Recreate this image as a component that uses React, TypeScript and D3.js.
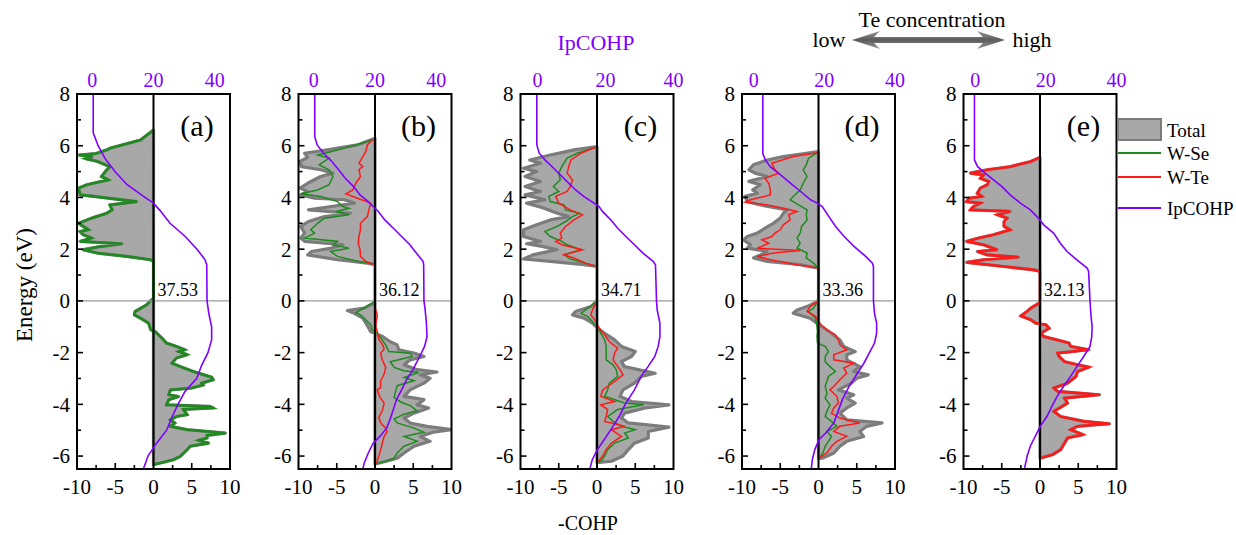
import React from "react";
import * as d3 from "d3";

type Pt = [number, number];

// -COHP, as [energy (eV), -COHP] pairs, top to bottom
const wseA: Pt[] = [
  [6.61, 0], [6.22, -1.7], [5.9, -5.7], [5.84, -6.1], [5.7, -7.5], [5.64, -9.8], [5.58, -8.0], [5.5, -8.9],
  [5.4, -7.4], [5.19, -5.7], [5.07, -6.1], [4.81, -6.8], [4.68, -5.9], [4.49, -8.7], [4.36, -9.8], [4.1, -9.6],
  [4.04, -7.8], [3.84, -2.2], [3.71, -5.7], [3.52, -5.4], [3.39, -6.1], [3.2, -8.1], [3.0, -9.8], [2.88, -9.2],
  [2.75, -8.5], [2.68, -9.6], [2.56, -9.2], [2.43, -8.1], [2.3, -9.6], [2.21, -4.1], [2.1, -7.0], [1.98, -9.2],
  [1.85, -7.4], [1.72, -3.5], [1.59, -0.4], [1.53, 0], [0.1, 0],
  [0, -0.4], [-0.15, -0.9], [-0.41, -2.4], [-0.54, -2.5], [-0.67, -1.7], [-0.86, -0.65], [-1.12, -0.35],
  [-1.18, 0.2], [-1.44, 1.1], [-1.63, 1.7], [-1.76, 3.0], [-1.89, 4.1], [-1.96, 3.3], [-2.08, 4.4], [-2.21, 3.0],
  [-2.41, 2.4], [-2.54, 3.5], [-2.73, 5.2], [-2.95, 7.6], [-3.05, 7.8], [-3.18, 6.3], [-3.25, 6.5], [-3.37, 5.0],
  [-3.44, 2.2], [-3.63, 2.0], [-3.7, 3.3], [-3.82, 2.0], [-4.02, 1.7], [-4.08, 7.4], [-4.14, 7.8], [-4.2, 3.9],
  [-4.4, 4.4], [-4.47, 3.0], [-4.6, 2.2], [-4.72, 2.8], [-4.85, 2.2], [-4.98, 4.4], [-5.11, 9.4], [-5.2, 7.0],
  [-5.3, 7.0], [-5.39, 5.9], [-5.5, 7.2], [-5.62, 4.8], [-5.75, 4.4], [-6.01, 3.5], [-6.14, 2.6], [-6.27, 0.9],
  [-6.33, 0],
];

const totalB: Pt[] = [
  [6.29, 0], [6.03, -2.3], [5.84, -6.2], [5.71, -9.2], [5.55, -8.8], [5.39, -9.8], [5.19, -9.6], [5.07, -7.1],
  [4.94, -5.5], [4.81, -7.1], [4.55, -8.8], [4.36, -9.8], [4.23, -8.8], [4.1, -9.7], [3.97, -7.9], [3.91, -4.0],
  [3.78, -2.7], [3.65, -5.7], [3.52, -8.7], [3.39, -3.2], [3.26, -6.6], [3.07, -8.7], [2.88, -9.7], [2.62, -9.2],
  [2.43, -9.7], [2.3, -9.2], [2.17, -4.2], [2.04, -5.7], [1.91, -8.3], [1.78, -8.8], [1.59, -4.9], [1.46, -1.0],
  [1.4, 0], [0.05, 0],
  [-0.09, -0.2], [-0.28, -1.4], [-0.37, -3.6], [-0.48, -2.7], [-0.67, -1.6], [-0.86, -1.2], [-1.06, -0.8],
  [-1.18, -0.6], [-1.38, 1.0], [-1.58, 2.0], [-1.7, 2.9], [-1.89, 3.1], [-2.02, 5.1], [-2.15, 6.4], [-2.28, 4.6],
  [-2.47, 3.8], [-2.66, 5.5], [-2.75, 8.1], [-2.86, 5.9], [-2.99, 7.2], [-3.18, 6.4], [-3.44, 4.6], [-3.69, 3.8],
  [-3.82, 6.4], [-4.02, 5.5], [-4.14, 7.0], [-4.34, 5.1], [-4.53, 3.8], [-4.72, 4.6], [-4.85, 6.8], [-4.98, 10],
  [-5.08, 7.6], [-5.24, 5.9], [-5.43, 7.2], [-5.62, 5.1], [-5.88, 3.8], [-6.08, 2.9], [-6.21, 1.4], [-6.3, 0],
];

const wseB: Pt[] = [
  [6.24, 0], [6.22, -0.35], [5.97, -3.2], [5.77, -5.8], [5.64, -7.5], [5.52, -6.0], [5.26, -7.3], [5.07, -6.0],
  [4.81, -5.5], [4.49, -6.0], [4.29, -7.5], [4.14, -9.7], [4.04, -7.1], [3.84, -4.9], [3.65, -4.2], [3.58, -3.4],
  [3.46, -5.1], [3.33, -3.4], [3.2, -6.6], [3.0, -7.5], [2.75, -8.4], [2.62, -7.9], [2.43, -9.2], [2.3, -4.9],
  [2.17, -5.5], [2.04, -3.4], [1.91, -5.8], [1.72, -4.9], [1.53, -2.3], [1.44, -0.35], [1.4, 0], [0.05, 0],
  [-0.09, -0.35], [-0.45, -2.5], [-0.54, -1.9], [-0.73, -1.2], [-0.92, -0.56], [-1.12, -0.35], [-1.25, 0.3],
  [-1.51, 0.95], [-1.7, 1.4], [-1.96, 1.8], [-2.02, 4.6], [-2.15, 4.85], [-2.35, 2.0], [-2.57, 2.5], [-2.7, 3.8],
  [-2.77, 5.7], [-2.96, 3.8], [-3.09, 5.1], [-3.28, 2.9], [-3.47, 2.7], [-3.73, 2.5], [-3.93, 3.5], [-4.05, 4.6],
  [-4.25, 5.5], [-4.38, 3.8], [-4.57, 2.5], [-4.72, 2.9], [-4.92, 5.1], [-5.08, 6.4], [-5.24, 3.8], [-5.43, 5.5],
  [-5.62, 3.8], [-5.88, 2.9], [-6.08, 2.5], [-6.21, 1.2], [-6.3, 0.2], [-6.32, 0],
];

const wteB: Pt[] = [
  [6.24, 0], [6.22, -0.35], [6.03, -1.0], [5.77, -1.2], [5.58, -1.6], [5.32, -2.1], [5.2, -1.6], [5.07, -2.1],
  [4.81, -1.9], [4.55, -2.5], [4.29, -2.9], [4.14, -3.8], [3.97, -2.3], [3.78, -0.56], [3.52, -0.8], [3.26, -1.0],
  [3.0, -1.9], [2.75, -1.9], [2.49, -2.1], [2.23, -2.2], [1.98, -1.95], [1.72, -1.9], [1.53, -1.2], [1.4, -0.1],
  [1.38, 0], [0.05, 0],
  [-0.09, -0.1], [-0.35, 0.1], [-0.54, 0.3], [-0.73, 0.2], [-0.99, 0.1], [-1.18, 0.3], [-1.48, 0.5],
  [-1.67, 0.95], [-1.86, 1.2], [-2.02, 0.74], [-2.28, 0.95], [-2.57, 1.4], [-2.83, 1.2], [-3.09, 0.74],
  [-3.35, 0.74], [-3.44, 0.3], [-3.73, 0.65], [-3.95, 1.2], [-4.25, 0.95], [-4.5, 0.5], [-4.72, 0.74],
  [-4.92, 1.4], [-5.06, 1.6], [-5.24, 1.2], [-5.5, 0.95], [-5.76, 0.74], [-6.0, 0.5], [-6.27, 0.2], [-6.3, 0],
];

const totalC: Pt[] = [
  [5.97, 0], [5.84, -3.0], [5.64, -6.1], [5.45, -8.8], [5.32, -7.4], [5.13, -9.6], [5.0, -7.9], [4.81, -9.4],
  [4.62, -7.4], [4.42, -9.4], [4.23, -7.4], [4.1, -9.4], [3.91, -6.8], [3.78, -9.2], [3.59, -7.0], [3.39, -5.2],
  [3.26, -3.7], [3.13, -6.1], [2.94, -7.9], [2.75, -9.6], [2.49, -9.6], [2.3, -7.4], [2.21, -9.2], [2.11, -7.2],
  [1.98, -5.2], [1.78, -8.4], [1.62, -9.6], [1.53, -6.1], [1.4, -1.7], [1.33, 0], [0.05, 0],
  [-0.03, -0.13], [-0.22, -0.8], [-0.41, -2.8], [-0.54, -3.2], [-0.67, -1.7], [-0.86, -0.6], [-1.06, 0.1],
  [-1.25, 1.0], [-1.51, 2.3], [-1.76, 3.2], [-1.96, 5.0], [-2.15, 4.5], [-2.35, 3.2], [-2.54, 3.6], [-2.8, 7.6],
  [-2.92, 5.8], [-3.18, 4.9], [-3.44, 3.4], [-3.69, 3.0], [-3.89, 4.5], [-4.02, 9.4], [-4.14, 6.3], [-4.34, 3.6],
  [-4.53, 3.2], [-4.72, 4.1], [-4.88, 9.4], [-5.05, 6.7], [-5.3, 6.7], [-5.5, 4.9], [-5.75, 4.1], [-6.0, 3.4],
  [-6.2, 1.9], [-6.25, 0],
];

const wseC: Pt[] = [
  [5.95, 0], [5.71, -2.6], [5.52, -3.9], [5.19, -4.6], [4.94, -5.0], [4.68, -4.8], [4.42, -5.7], [4.23, -5.0],
  [4.04, -6.3], [3.84, -6.1], [3.71, -4.3], [3.52, -4.1], [3.39, -2.3], [3.26, -3.2], [3.07, -4.1], [2.88, -5.2],
  [2.68, -6.8], [2.49, -6.1], [2.3, -4.6], [2.17, -3.9], [1.98, -2.1], [1.78, -4.3], [1.62, -3.5], [1.46, -1.5],
  [1.33, 0], [0.05, 0],
  [-0.09, -0.35], [-0.28, -1.2], [-0.48, -2.1], [-0.61, -1.2], [-0.8, -0.6], [-0.99, 0], [-1.25, 0.5],
  [-1.51, 1.0], [-1.76, 1.2], [-2.02, 1.2], [-2.28, 1.2], [-2.47, 2.1], [-2.66, 2.5], [-2.92, 2.7], [-3.18, 1.6],
  [-3.44, 1.4], [-3.69, 1.0], [-3.95, 3.6], [-4.02, 6.1], [-4.2, 2.7], [-4.47, 1.4], [-4.66, 2.1], [-4.85, 3.2],
  [-4.98, 5.0], [-5.11, 3.6], [-5.3, 4.1], [-5.5, 2.3], [-5.75, 1.4], [-6.0, 1.0], [-6.2, 0.5], [-6.25, 0],
];

const wteC: Pt[] = [
  [5.97, 0], [5.71, -2.1], [5.45, -3.4], [5.19, -3.7], [4.94, -3.9], [4.68, -3.2], [4.42, -3.5], [4.23, -3.9],
  [4.04, -5.4], [3.78, -5.0], [3.52, -3.5], [3.33, -1.9], [3.13, -3.0], [2.88, -4.1], [2.62, -4.8], [2.43, -4.6],
  [2.3, -5.4], [2.17, -4.6], [1.98, -1.9], [1.78, -4.3], [1.66, -3.0], [1.46, -1.5], [1.33, 0], [0.05, 0],
  [-0.09, -0.13], [-0.35, -0.6], [-0.54, -0.8], [-0.8, -0.13], [-1.06, 0.3], [-1.31, 1.0], [-1.57, 1.6],
  [-1.83, 2.7], [-2.02, 2.3], [-2.28, 2.1], [-2.66, 3.0], [-2.86, 3.4], [-3.11, 2.3], [-3.44, 0.75], [-3.69, 0.5],
  [-3.89, 2.3], [-4.02, 0.5], [-4.2, 1.4], [-4.47, 1.2], [-4.66, 1.0], [-4.85, 3.6], [-4.98, 1.9], [-5.24, 3.2],
  [-5.5, 1.9], [-5.75, 1.2], [-6.0, 0.75], [-6.2, 0.2], [-6.22, 0],
];

const totalD: Pt[] = [
  [5.77, 0], [5.58, -4.6], [5.45, -6.7], [5.26, -8.5], [5.07, -9.1], [4.94, -8.3], [4.81, -6.7], [4.62, -9.1],
  [4.49, -7.6], [4.29, -8.6], [4.16, -8.0], [4.04, -9.6], [3.84, -9.3], [3.71, -7.6], [3.52, -4.1], [3.39, -4.6],
  [3.2, -5.0], [3.0, -5.9], [2.81, -7.0], [2.62, -8.0], [2.49, -9.3], [2.36, -9.8], [2.17, -8.9], [2.04, -9.3],
  [1.91, -6.7], [1.78, -7.6], [1.66, -8.5], [1.53, -6.7], [1.4, -2.4], [1.27, 0], [0.05, 0],
  [-0.03, -0.2], [-0.22, -1.5], [-0.35, -2.8], [-0.48, -3.3], [-0.67, -1.1], [-0.86, -0.2], [-0.99, 0.4],
  [-1.25, 1.7], [-1.51, 2.8], [-1.76, 3.3], [-1.96, 4.8], [-2.08, 3.7], [-2.28, 3.7], [-2.54, 5.4], [-2.73, 4.6],
  [-2.86, 6.5], [-2.99, 5.0], [-3.18, 4.3], [-3.44, 2.6], [-3.63, 4.6], [-3.76, 3.7], [-3.95, 4.8], [-4.14, 3.7],
  [-4.34, 2.8], [-4.6, 3.7], [-4.72, 8.3], [-4.85, 6.3], [-5.05, 5.4], [-5.24, 5.9], [-5.43, 3.7], [-5.62, 2.8],
  [-5.88, 2.0], [-6.07, 0.65], [-6.1, 0],
];

const wseD: Pt[] = [
  [5.75, 0], [5.73, -0.13], [5.52, -1.3], [5.26, -1.6], [5.07, -2.0], [4.81, -1.5], [4.55, -2.0], [4.29, -2.4],
  [4.04, -3.3], [3.91, -3.7], [3.71, -2.6], [3.52, -1.5], [3.33, -1.6], [3.13, -1.5], [2.88, -2.2], [2.62, -2.4],
  [2.43, -2.8], [2.23, -2.4], [2.04, -2.8], [1.85, -1.5], [1.66, -1.6], [1.46, -0.65], [1.27, 0], [0.05, 0],
  [-0.03, -0.13], [-0.28, -0.65], [-0.41, -1.3], [-0.67, -0.4], [-0.99, -0.2], [-1.18, -0.13], [-1.37, -0.2],
  [-1.63, -0.13], [-1.76, 0.87], [-1.96, 1.3], [-2.15, 0.87], [-2.35, 0.87], [-2.54, 1.5], [-2.73, 2.2],
  [-2.92, 1.3], [-3.11, 1.1], [-3.31, 0.87], [-3.56, 1.1], [-3.76, 0.87], [-4.02, 1.5], [-4.27, 1.1],
  [-4.47, 0.87], [-4.66, 1.7], [-4.85, 2.4], [-5.05, 1.1], [-5.24, 1.7], [-5.43, 1.3], [-5.62, 0.87],
  [-5.88, 0.57], [-6.05, 0.2], [-6.08, 0],
];

const wteD: Pt[] = [
  [5.75, 0], [5.73, -0.2], [5.58, -3.3], [5.32, -6.1], [5.07, -5.7], [4.94, -5.2], [4.74, -7.0], [4.55, -6.5],
  [4.29, -6.3], [4.1, -6.3], [3.91, -8.9], [3.82, -9.6], [3.71, -6.7], [3.59, -4.8], [3.46, -2.8], [3.33, -3.9],
  [3.13, -3.7], [2.94, -4.6], [2.75, -5.0], [2.62, -5.7], [2.49, -6.1], [2.36, -7.4], [2.23, -6.5], [2.04, -8.0],
  [1.95, -2.4], [1.85, -5.9], [1.72, -8.0], [1.59, -6.3], [1.4, -2.8], [1.27, 0], [0.05, 0],
  [-0.03, -0.2], [-0.22, -1.1], [-0.41, -1.5], [-0.6, -0.4], [-0.8, 0], [-0.93, 0.4], [-1.12, 1.1], [-1.31, 2.2],
  [-1.51, 2.6], [-1.7, 2.8], [-1.89, 3.7], [-2.08, 2.0], [-2.28, 2.0], [-2.41, 4.6], [-2.6, 3.3], [-2.79, 3.7],
  [-3.05, 2.8], [-3.31, 2.0], [-3.44, 1.5], [-3.69, 2.4], [-3.95, 2.6], [-4.14, 2.0], [-4.34, 1.7], [-4.53, 2.8],
  [-4.72, 5.4], [-4.85, 2.8], [-5.05, 2.0], [-5.24, 3.7], [-5.43, 2.4], [-5.62, 1.7], [-5.88, 1.1], [-6.05, 0.2],
  [-6.08, 0],
];

const wteE: Pt[] = [
  [5.55, 0], [5.39, -1.2], [5.19, -3.9], [5.07, -6.9], [4.94, -9.1], [4.87, -7.4], [4.74, -7.8], [4.62, -6.7],
  [4.49, -6.9], [4.36, -7.8], [4.16, -8.2], [4.04, -7.6], [3.97, -9.3], [3.84, -9.6], [3.78, -7.8], [3.65, -8.7],
  [3.52, -9.1], [3.46, -3.9], [3.33, -5.6], [3.2, -4.3], [3.07, -4.7], [2.88, -4.7], [2.75, -3.9], [2.56, -6.1],
  [2.43, -8.0], [2.3, -9.6], [2.17, -7.4], [1.98, -5.6], [1.91, -8.2], [1.78, -6.9], [1.69, -2.8], [1.59, -7.4],
  [1.49, -9.6], [1.33, -4.7], [1.2, -0.8], [1.14, 0], [0.05, 0],
  [-0.09, -0.13], [-0.28, -1.2], [-0.41, -1.7], [-0.58, -2.5], [-0.73, -1.2], [-0.86, -0.57], [-0.92, 0.75],
  [-1.06, 1.2], [-1.25, 0.1], [-1.38, 0.5], [-1.51, 2.3], [-1.63, 3.8], [-1.76, 4.0], [-1.89, 6.4], [-2.02, 2.3],
  [-2.15, 2.5], [-2.35, 3.2], [-2.47, 4.9], [-2.56, 6.4], [-2.73, 4.9], [-2.92, 4.7], [-3.18, 3.6], [-3.37, 1.8],
  [-3.5, 2.3], [-3.63, 7.8], [-3.76, 3.2], [-3.95, 3.6], [-4.08, 2.9], [-4.27, 1.8], [-4.47, 2.7], [-4.66, 5.8],
  [-4.75, 9.1], [-4.85, 4.9], [-4.98, 4.0], [-5.17, 5.6], [-5.3, 3.6], [-5.5, 3.2], [-5.75, 2.7], [-5.95, 1.6],
  [-6.07, 0.1], [-6.08, 0],
];

// IpCOHP (top axis), [energy, value]
const ipA: Pt[] = [
  [8, 0.3], [6.5, 0.3], [6.0, 1.9], [5.5, 4.2], [5.0, 7.4], [4.5, 11.3], [4.0, 17.2], [3.8, 19.8], [3.5, 22.1],
  [3.0, 25.4], [2.5, 30.3], [2.0, 34.2], [1.6, 36.8], [1.4, 37.4], [0, 37.5], [-0.5, 38.1], [-1.0, 39],
  [-1.5, 39], [-2.0, 37.8], [-2.5, 35.7], [-3.0, 34.1], [-3.5, 30.3], [-4.0, 28], [-4.5, 26], [-5.0, 24.3],
  [-5.5, 21], [-6.0, 18.2], [-6.5, 16.7],
];
const ipB: Pt[] = [
  [8, 0.3], [6.35, 0.3], [6.03, 1.1], [5.71, 3.2], [5.39, 5.9], [5.07, 8.1], [4.74, 10.3], [4.42, 13],
  [4.1, 15.1], [3.84, 17.8], [3.65, 19.4], [3.46, 21.1], [3.13, 23.2], [2.81, 26], [2.49, 28.7], [2.17, 31.4],
  [1.85, 33.5], [1.53, 35.7], [1.4, 35.9], [0, 36.0], [-0.35, 36.4], [-0.86, 36.8], [-1.38, 37], [-1.76, 36.2],
  [-2.15, 34.6], [-2.66, 32.4], [-3.05, 30.3], [-3.44, 28.7], [-3.82, 27], [-4.2, 26], [-4.59, 24.9],
  [-4.92, 23.8], [-5.24, 21.6], [-5.5, 19.4], [-5.88, 17.8], [-6.27, 16.5], [-6.5, 16],
];
const ipC: Pt[] = [
  [8, -0.2], [6.03, -0.2], [5.71, 0.5], [5.45, 2.2], [5.07, 5.2], [4.68, 8.2], [4.29, 11.2], [4.04, 13.6],
  [3.78, 16.6], [3.65, 18.1], [3.46, 19.1], [3.13, 21.6], [2.81, 23.6], [2.49, 26], [2.17, 28.5], [1.85, 31],
  [1.53, 34], [1.4, 34.7], [0, 35], [-0.35, 35.2], [-0.86, 36], [-1.38, 36], [-1.76, 35.5], [-2.15, 34.5],
  [-2.54, 32.5], [-2.92, 30.5], [-3.44, 28.5], [-3.95, 26], [-4.47, 24], [-4.98, 21.6], [-5.37, 19.6],
  [-5.75, 17.6], [-6.14, 16.1], [-6.5, 15.4],
];
const ipD: Pt[] = [
  [8, 2.6], [5.7, 2.6], [5.45, 3.3], [5.19, 4.7], [4.87, 7.6], [4.55, 10.4], [4.23, 13.3], [3.91, 16.1],
  [3.78, 18], [3.65, 19.4], [3.26, 21.3], [2.88, 23.2], [2.49, 25.6], [2.11, 28.4], [1.72, 31.7], [1.46, 33.6],
  [1.33, 33.9], [0, 33.9], [-0.48, 34.2], [-0.86, 34.8], [-1.25, 34.8], [-1.63, 34.2], [-2.02, 32.7],
  [-2.41, 31.2], [-2.79, 29.4], [-3.31, 27], [-3.82, 25.1], [-4.34, 23.7], [-4.72, 22.7], [-5.11, 20.4],
  [-5.37, 18.5], [-5.75, 17.3], [-6.14, 16.6], [-6.5, 16.3],
];
const ipE: Pt[] = [
  [8, -0.2], [5.45, -0.2], [5.19, 0.7], [4.94, 2.8], [4.68, 5.2], [4.42, 7.6], [4.1, 9.9], [3.78, 12.8],
  [3.52, 15.6], [3.26, 17.5], [2.94, 19.4], [2.62, 22.2], [2.23, 24.1], [1.91, 26], [1.53, 29.3], [1.27, 31.7],
  [1.14, 32.1], [0, 32.5], [-0.6, 32.8], [-0.99, 33.1], [-1.38, 33], [-1.76, 32.5], [-2.15, 30.7],
  [-2.54, 28.8], [-2.92, 27], [-3.31, 25], [-3.69, 23.2], [-4.08, 21.7], [-4.47, 20.3], [-4.85, 18.4],
  [-5.24, 17], [-5.62, 15.6], [-6.01, 14.7], [-6.46, 14],
];

const panelTags = ["(a)", "(b)", "(c)", "(d)", "(e)"];
const fermiValues = ["37.53", "36.12", "34.71", "33.36", "32.13"];
const yTicks = [-6, -4, -2, 0, 2, 4, 6, 8];
const xTickLabels = [-10, -5, 0, 5, 10];
const topTickLabels = [0, 20, 40];
const legendItems = ["Total", "W-Se", "W-Te", "IpCOHP"];

const panels = [
  { total: wseA, wse: wseA, wte: null, ip: ipA, ipDomain: [-5, 45], bold: "wse" },
  { total: totalB, wse: wseB, wte: wteB, ip: ipB, ipDomain: [-5, 45], bold: "" },
  { total: totalC, wse: wseC, wte: wteC, ip: ipC, ipDomain: [-5, 40], bold: "" },
  { total: totalD, wse: wseD, wte: wteD, ip: ipD, ipDomain: [-3.3, 40], bold: "" },
  { total: wteE, wse: null, wte: wteE, ip: ipE, ipDomain: [-3.3, 40], bold: "wte" },
];

const W = 1236;
const H = 535;
const lefts = [77, 298.5, 520.5, 742, 963.5];
const pw = 153;
const top = 94;
const bottom = 469;

const FONT = "'Liberation Serif', 'Times New Roman', serif";
const GREEN = "#1f8a1f";
const RED = "#ff1a1a";
const PURPLE = "#7f00ff";
const FILL = "#a8a8a8";
const EDGE = "#7c7c7c";

const y = d3.scaleLinear().domain([-6.5, 8]).range([bottom, top]);

function Panel({ i }: { i: number }) {
  const p = panels[i];
  const left = lefts[i];
  const x = d3.scaleLinear().domain([-10, 10]).range([left, left + pw]);
  const xt = d3.scaleLinear().domain(p.ipDomain).range([left, left + pw]);
  const area = d3.area<Pt>().y((d) => y(d[0])).x0(x(0)).x1((d) => x(d[1]));
  const line = d3.line<Pt>().x((d) => x(d[1])).y((d) => y(d[0]));
  const ipLine = d3.line<Pt>().x((d) => xt(d[1])).y((d) => y(d[0]));
  const clip = `clip-${i}`;
  const minorY = d3.range(-6, 9, 1);
  const minorX = d3.range(-7.5, 10, 2.5).filter((v) => v !== 0);

  return (
    <g>
      <defs>
        <clipPath id={clip}>
          <rect x={left} y={top} width={pw} height={bottom - top} />
        </clipPath>
      </defs>
      <g clipPath={`url(#${clip})`}>
        <path d={area(p.total) || ""} fill={FILL} stroke={EDGE} strokeWidth={3.2} strokeLinejoin="round" />
        {p.wse && (
          <path d={line(p.wse) || ""} fill="none" stroke={GREEN} strokeWidth={p.bold === "wse" ? 2.6 : 1.5} />
        )}
        {p.wte && (
          <path d={line(p.wte) || ""} fill="none" stroke={RED} strokeWidth={p.bold === "wte" ? 2.6 : 1.5} />
        )}
        <line x1={left} x2={left + pw} y1={y(0)} y2={y(0)} stroke="#9a9a9a" strokeWidth={1.3} />
        <line x1={x(0)} x2={x(0)} y1={top} y2={bottom} stroke="#000" strokeWidth={2} />
        <path d={ipLine(p.ip) || ""} fill="none" stroke={PURPLE} strokeWidth={1.6} />
      </g>
      <rect x={left} y={top} width={pw} height={bottom - top} fill="none" stroke="#000" strokeWidth={2} />
      {minorY.map((v) => (
        <line key={"yt" + v} x1={left} x2={left + (v % 2 === 0 ? 6 : 4)} y1={y(v)} y2={y(v)} stroke="#000" strokeWidth={1.6} />
      ))}
      {minorX.map((v) => (
        <line key={"xt" + v} x1={x(v)} x2={x(v)} y1={bottom} y2={bottom - (v % 5 === 0 ? 6 : 4)} stroke="#000" strokeWidth={1.6} />
      ))}
      {yTicks.map((v) => (
        <text key={"yl" + v} x={left - 7} y={y(v)} dy="0.35em" textAnchor="end" fontSize={21} fontFamily={FONT}>
          {v}
        </text>
      ))}
      {xTickLabels.map((v) => (
        <text key={"xl" + v} x={x(v)} y={bottom + 25} textAnchor="middle" fontSize={21} fontFamily={FONT}>
          {v}
        </text>
      ))}
      {topTickLabels.map((v) => (
        <text key={"tl" + v} x={xt(v)} y={top - 7} textAnchor="middle" fontSize={20} fontFamily={FONT} fill={PURPLE}>
          {v}
        </text>
      ))}
      <text x={left + 120} y={top + 42} textAnchor="middle" fontSize={30} fontFamily={FONT}>
        {panelTags[i]}
      </text>
      <text x={x(0) + 4} y={y(0) - 5} fontSize={18} fontFamily={FONT}>
        {fermiValues[i]}
      </text>
    </g>
  );
}

function Legend() {
  const lx = 1118;
  const tx = 1167;
  const rows = [130, 153, 177, 208];
  const colors = [null, GREEN, RED, PURPLE];
  return (
    <g fontFamily={FONT} fontSize={19}>
      <rect x={lx} y={119} width={43} height={21} fill={FILL} stroke={EDGE} strokeWidth={2} />
      {legendItems.map((name, k) => (
        <g key={name}>
          {colors[k] && <line x1={lx} x2={lx + 43} y1={rows[k]} y2={rows[k]} stroke={colors[k]!} strokeWidth={1.8} />}
          <text x={tx} y={rows[k]} dy="0.35em">
            {name}
          </text>
        </g>
      ))}
    </g>
  );
}

function Arrow() {
  const x0 = 852;
  const x1 = 1005;
  const cy = 40;
  const hl = 28;
  const hh = 9;
  const sh = 3;
  const pts = [
    [x0, cy], [x0 + hl, cy - hh], [x0 + hl - 6, cy - sh], [x1 - hl + 6, cy - sh], [x1 - hl, cy - hh],
    [x1, cy], [x1 - hl, cy + hh], [x1 - hl + 6, cy + sh], [x0 + hl - 6, cy + sh], [x0 + hl, cy + hh],
  ];
  return (
    <g>
      <defs>
        <linearGradient id="arrowGrad" x1="0" y1="0" x2="0" y2="1">
          <stop offset="0" stopColor="#9a9a9a" />
          <stop offset="0.5" stopColor="#5a5a5a" />
          <stop offset="1" stopColor="#9a9a9a" />
        </linearGradient>
      </defs>
      <polygon points={pts.map((p) => p.join(",")).join(" ")} fill="url(#arrowGrad)" />
    </g>
  );
}

export default function App() {
  return (
    <svg
      width={W}
      height={H}
      style={{ position: "absolute", left: 0, top: 0, display: "block", background: "#fff" }}
    >
      {panels.map((_, i) => (
        <Panel key={i} i={i} />
      ))}
      <Legend />
      <Arrow />
      <text x={932} y={27} textAnchor="middle" fontSize={22} fontFamily={FONT}>
        Te concentration
      </text>
      <text x={829} y={47} textAnchor="middle" fontSize={22} fontFamily={FONT}>
        low
      </text>
      <text x={1032} y={47} textAnchor="middle" fontSize={22} fontFamily={FONT}>
        high
      </text>
      <text x={596} y={50} textAnchor="middle" fontSize={22} fontFamily={FONT} fill={PURPLE}>
        IpCOHP
      </text>
      <text x={588} y={530} textAnchor="middle" fontSize={20} fontFamily={FONT}>
        -COHP
      </text>
      <text
        transform="translate(32,285) rotate(-90)"
        textAnchor="middle"
        fontSize={23}
        fontFamily={FONT}
      >
        Energy (eV)
      </text>
    </svg>
  );
}
